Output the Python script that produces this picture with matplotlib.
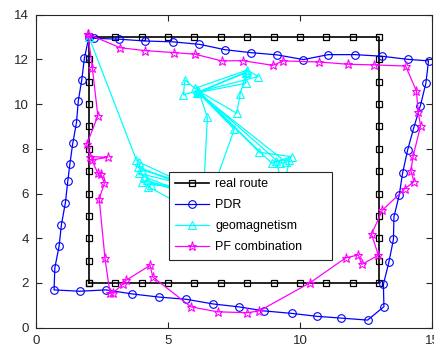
#! /usr/bin/env python3
# coding: utf-8

import matplotlib
matplotlib.use("Agg")
import matplotlib.pyplot as plt

####
# les donnees
####

# trajet reel : un carre de 2 a 13
reel_x = [2, 2, 2, 2, 2, 2, 2, 2, 2, 2, 2, 2,
          3, 4, 5, 6, 7, 8, 9, 10, 11, 12, 13,
          13, 13, 13, 13, 13, 13, 13, 13, 13, 13, 13,
          12, 11, 10, 9, 8, 7, 6, 5, 4, 3, 2]
reel_y = [2, 3, 4, 5, 6, 7, 8, 9, 10, 11, 12, 13,
          13, 13, 13, 13, 13, 13, 13, 13, 13, 13, 13,
          12, 11, 10, 9, 8, 7, 6, 5, 4, 3, 2,
          2, 2, 2, 2, 2, 2, 2, 2, 2, 2, 2]

pdr_x = [2.00, 2.21, 3.14, 4.13, 5.20, 6.19, 7.16, 8.13, 9.12, 10.13, 11.07,
         12.08, 13.09, 14.08, 14.87, 14.77, 14.56, 14.31, 14.08, 13.89, 13.76,
         13.56, 13.54, 13.37, 13.16, 13.18, 12.56, 11.55, 10.63, 9.68, 8.65,
         7.69, 6.72, 5.69, 4.65, 3.64, 2.65, 1.65, 0.68, 0.71, 0.87, 0.96,
         1.11, 1.20, 1.28, 1.39, 1.53, 1.60, 1.73, 1.83, 2.00]
pdr_y = [13.00, 12.94, 12.90, 12.82, 12.78, 12.67, 12.43, 12.30, 12.20, 11.99,
         12.21, 12.21, 12.14, 12.00, 11.93, 10.93, 9.92, 8.94, 7.95, 6.93, 5.93,
         4.96, 3.95, 2.94, 1.94, 0.94, 0.34, 0.43, 0.51, 0.64, 0.75, 0.93, 1.06,
         1.27, 1.37, 1.51, 1.69, 1.63, 1.69, 2.68, 3.64, 4.61, 5.59, 6.55, 7.32,
         8.25, 9.17, 10.15, 11.08, 12.05, 13.00]

# geomagnetisme : certains points sont caches sous la legende
geo_x = [2.00, 3.80, 3.90, 7.20, 3.85, 4.00, 7.40, 3.90, 4.10, 7.00, 4.20,
         4.00, 7.60, 4.35, 4.25, 6.30, 6.49, 6.15, 5.58, 5.64, 6.02, 8.00,
         8.42, 6.19, 7.95, 7.95, 6.10, 7.98, 7.73, 7.60, 6.10, 8.46, 9.68,
         8.93, 6.15, 9.24, 9.47, 6.15, 7.51, 6.70, 9.30, 9.60, 9.10, 9.40]
geo_y = [13.00, 7.50, 7.40, 5.60, 7.20, 7.05, 5.90, 6.90, 6.75, 5.40, 6.60,
         6.50, 6.00, 6.40, 6.30, 5.00, 9.40, 10.60, 10.41, 11.08, 10.70, 11.52,
         11.23, 10.56, 11.40, 10.93, 10.50, 11.45, 10.44, 9.59, 10.62, 7.84,
         7.65, 7.35, 10.55, 7.35, 7.40, 10.50, 8.87, 6.20, 5.80, 7.50, 7.45,
         6.00]

pf_x = [1.96, 3.18, 4.13, 5.23, 6.02, 7.03, 7.83, 8.97, 9.37, 10.73, 11.81,
        12.82, 14.00, 14.41, 14.48, 14.57, 14.29, 14.20, 14.32, 13.98, 13.12,
        12.71, 12.97, 12.34, 12.21, 11.74, 10.38, 8.46, 8.00, 6.88, 5.87,
        4.42, 4.32, 3.41, 3.28, 2.93, 2.80, 2.61, 2.39, 2.59, 2.45, 2.34,
        2.11, 2.71, 2.05, 1.92, 2.34, 2.13, 1.96]
pf_y = [13.13, 12.52, 12.39, 12.30, 12.23, 11.93, 11.94, 11.73, 11.93, 11.88,
        11.78, 11.75, 11.70, 10.59, 9.63, 9.03, 7.69, 7.02, 6.53, 6.22, 5.25,
        4.18, 3.24, 2.83, 3.25, 3.13, 2.01, 0.75, 0.67, 0.71, 0.93, 2.27, 2.79,
        2.12, 1.94, 1.57, 1.54, 3.10, 5.77, 6.46, 6.86, 6.91, 7.50, 7.62, 7.65,
        8.20, 9.47, 11.63, 13.13]

x_ticks = [0, 5, 10, 15]
y_ticks = [0, 2, 4, 6, 8, 10, 12, 14]

####
# le graphique
####

def graphique():
	plt.rcParams['font.family'] = ['Liberation Sans', 'DejaVu Sans']
	fig = plt.figure(figsize=(4.35, 3.56), dpi=100)
	ax = fig.add_axes([0.083, 0.0795, 0.910, 0.8795])

	ax.plot(reel_x, reel_y, color='black', lw=1.2, marker='s', ms=3.8,
	        mfc='none', mew=0.9, label='real route')
	ax.plot(pdr_x, pdr_y, color='blue', lw=0.9, marker='o', ms=5.5,
	        mfc='none', mew=0.8, label='PDR')
	ax.plot(geo_x, geo_y, color='cyan', lw=0.9, marker='^', ms=5.5,
	        mfc='none', mew=0.8, label='geomagnetism')
	ax.plot(pf_x, pf_y, color='magenta', lw=0.9, marker='*', ms=6.5,
	        mfc='none', mew=0.8, label='PF combination')

	ax.set_xlim(0, 15)
	ax.set_ylim(0, 14)
	ax.set_xticks(x_ticks)
	ax.set_yticks(y_ticks)
	ax.tick_params(direction='in', top=True, right=True, length=4,
	               width=0.8, labelsize=9.5, colors='#262626', pad=5)
	for s in ax.spines.values():
		s.set_linewidth(0.8)
		s.set_color('#262626')

	# la legende est plus large que son contenu, comme sur l'original
	leg = ax.legend(loc='upper left', bbox_to_anchor=(0.336, 0.219, 0.411, 0.278),
	                mode='expand', borderaxespad=0, fontsize=9,
	                handlelength=2.7, handletextpad=0.5, labelspacing=0.72,
	                fancybox=False, framealpha=1, edgecolor='#262626',
	                borderpad=0.5)
	leg.get_frame().set_linewidth(0.8)

	fig.savefig('out.png', dpi=100)


def main():
	graphique()

if __name__ == "__main__":
	main()
